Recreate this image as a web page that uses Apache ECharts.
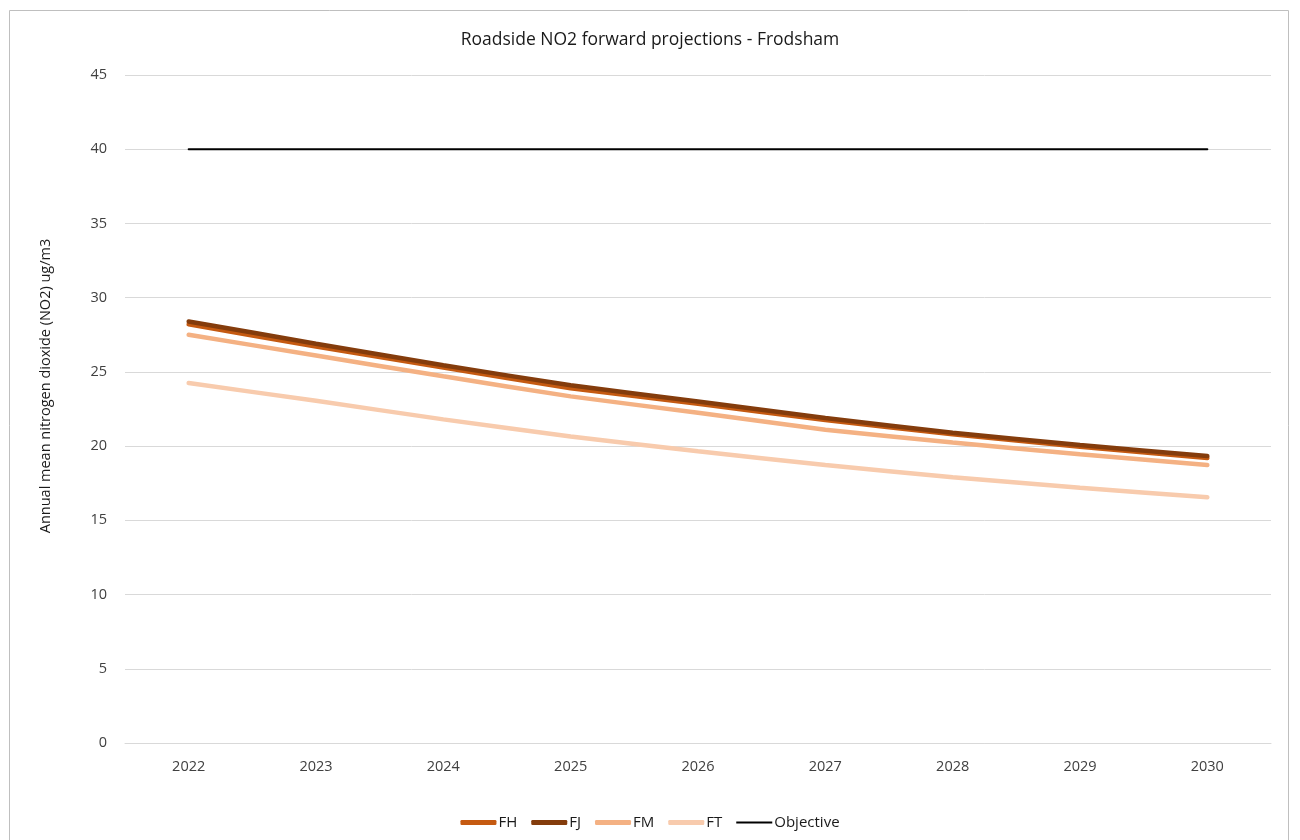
<!DOCTYPE html>
<html>
<head>
<meta charset="utf-8">
<script src="https://cdn.jsdelivr.net/npm/echarts@6/dist/echarts.min.js"></script>
<style>
  html, body { margin: 0; padding: 0; background: #ffffff; }
  #chart { width: 1300px; height: 840px; }
</style>
</head>
<body>
<div id="chart"></div>
<script>
// Projection years and annual mean NO2 (ug/m3) per site
const years = ['2022', '2023', '2024', '2025', '2026', '2027', '2028', '2029', '2030'];
const FH = [28.2, 26.7, 25.3, 23.9, 22.85, 21.75, 20.8, 19.95, 19.2];
const FJ = [28.4, 26.9, 25.45, 24.1, 23.0, 21.9, 20.9, 20.07, 19.33];
const FM = [27.5, 26.1, 24.7, 23.35, 22.25, 21.1, 20.25, 19.45, 18.73];
const FT = [24.25, 23.05, 21.8, 20.65, 19.65, 18.73, 17.9, 17.2, 16.55];
const objective = [40, 40, 40, 40, 40, 40, 40, 40, 40];

const font = 'Open Sans, Noto Sans, sans-serif';

function lineSeries(name, data, color, width) {
  return {
    name: name,
    type: 'line',
    data: data,
    symbol: 'none',
    smooth: 0.15,
    lineStyle: { color: color, width: width, cap: 'round' },
    itemStyle: { color: color },
    emphasis: { disabled: true }
  };
}

const chart = echarts.init(document.getElementById('chart'));
chart.setOption({
  animation: false,
  backgroundColor: '#ffffff',
  title: {
    text: 'Roadside NO2 forward projections - Frodsham',
    left: 'center',
    top: 26,
    textStyle: { fontFamily: font, fontSize: 17.5, fontWeight: 'normal', color: '#1a1a1a' }
  },
  graphic: [{
    type: 'rect',
    shape: { x: 9.5, y: 10.5, width: 1279, height: 840 },
    style: { fill: 'none', stroke: '#bfbfbf', lineWidth: 1 },
    silent: true
  }],
  grid: { left: 125, right: 29, top: 75, bottom: 97 },
  legend: {
    bottom: 5,
    left: 'center',
    itemWidth: 36,
    itemHeight: 5,
    itemGap: 14,
    symbolKeepAspect: true,
    textStyle: { fontFamily: font, fontSize: 15, color: '#1a1a1a', padding: [0, 0, 0, -3] },
    data: [
      { name: 'FH', icon: 'roundRect' },
      { name: 'FJ', icon: 'roundRect' },
      { name: 'FM', icon: 'roundRect' },
      { name: 'FT', icon: 'roundRect' },
      { name: 'Objective', icon: 'path://M0,0 H36 V2 H0 Z' }
    ]
  },
  xAxis: {
    type: 'category',
    data: years,
    boundaryGap: true,
    axisLine: { lineStyle: { color: '#d9d9d9', width: 1 } },
    axisTick: { show: false },
    axisLabel: { fontFamily: font, fontSize: 14.5, color: '#404040', margin: 16 }
  },
  yAxis: {
    type: 'value',
    min: 0,
    max: 45,
    interval: 5,
    name: 'Annual mean nitrogen dioxide (NO2) ug/m3',
    nameLocation: 'middle',
    nameGap: 72,
    nameTextStyle: { fontFamily: font, fontSize: 14.5, color: '#1a1a1a', padding: [0, 0, 0, 46] },
    axisLine: { show: false },
    axisTick: { show: false },
    axisLabel: { fontFamily: font, fontSize: 14.5, color: '#404040', margin: 18 },
    splitLine: { lineStyle: { color: '#d9d9d9', width: 1 } }
  },
  series: [
    lineSeries('FH', FH, '#c55a11', 4.5),
    lineSeries('FJ', FJ, '#843c0c', 4.5),
    lineSeries('FM', FM, '#f4b183', 4.5),
    lineSeries('FT', FT, '#f8cbad', 4.5),
    lineSeries('Objective', objective, '#000000', 2)
  ]
});
</script>
</body>
</html>
